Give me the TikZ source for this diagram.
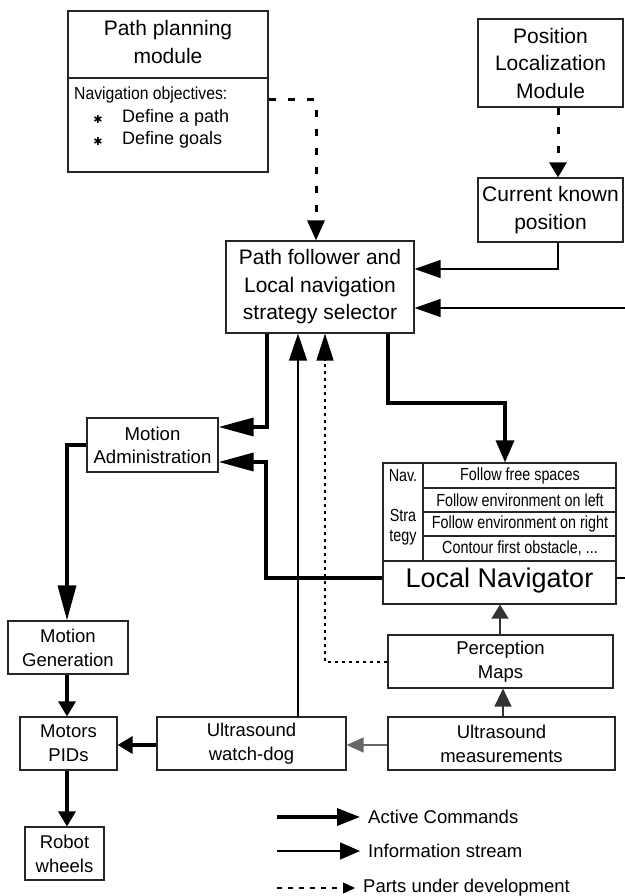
\documentclass[tikz,border=0pt]{standalone}
\usepackage{fontspec}
\setmainfont{Liberation Sans}
\newfontfamily\navfont[FakeStretch=0.9]{Liberation Sans}
\newfontfamily\rowfont[FakeStretch=0.82]{Liberation Sans}
\newfontfamily\symfont{DejaVu Sans}
\usetikzlibrary{arrows.meta}
\begin{document}
\begin{tikzpicture}[x=1pt,y=-1pt,
  box/.style={draw=black!85, line width=1.2pt, inner sep=0pt, align=center},
  big/.style={font=\fontsize{21}{27.5}\selectfont},
  mid/.style={font=\fontsize{18.5}{24}\selectfont},
  lbl/.style={inner sep=0pt, align=center},
  rowtxt/.style={inner sep=0pt, font=\rowfont\fontsize{17.5}{20}\selectfont},
  thk/.style={line width=3.4pt},
  thn/.style={line width=1.3pt},
  dsh/.style={line width=3pt, dash pattern=on 7pt off 12pt},
  dots/.style={line width=1.3pt, dash pattern=on 3.5pt off 3.5pt},
  tipL/.style={-{Triangle[length=35pt,width=18pt]}},
  tipM/.style={-{Triangle[length=26pt,width=18pt]}},
  tipS/.style={-{Triangle[length=20pt,width=17pt]}},
  tipXS/.style={-{Triangle[length=15pt,width=17pt]}}
]
\useasboundingbox (0,0) rectangle (624,896);

% ---------- boxes ----------
\node[box, minimum width=200pt, minimum height=161pt] (plan) at (168,91.5) {};
\draw[line width=1.2pt, black!85] (68,78) -- (268,78);
\node[lbl, big] (plant) at (168,42) {Path planning\\module};
\node[lbl, anchor=west, font=\navfont\fontsize{17.5}{20}\selectfont] (navobj) at (74,95) {Navigation objectives:};
\node[lbl, font=\symfont\fontsize{11}{11}\selectfont] (bul1) at (98,119) {✱};
\node[lbl, font=\symfont\fontsize{11}{11}\selectfont] (bul2) at (98,141) {✱};
\node[lbl, anchor=west, font=\fontsize{18}{20}\selectfont] (def1) at (122,118) {Define a path};
\node[lbl, anchor=west, font=\fontsize{18}{20}\selectfont] (def2) at (122,140) {Define goals};

\node[box, big, minimum width=145pt, minimum height=88pt] (posloc) at (550.5,63) {Position\\Localization\\Module};
\node[box, big, minimum width=145pt, minimum height=64pt] (curpos) at (550.5,210) {Current known\\position};
\node[box, big, minimum width=188pt, minimum height=92pt] (pf) at (320,287) {Path follower and\\Local navigation\\strategy selector};
\node[box, font=\fontsize{18.6}{23}\selectfont, minimum width=131pt, minimum height=54pt] (madm) at (152.5,445) {Motion\\Administration};

% Local navigator
\node[box, minimum width=233pt, minimum height=141pt] (lnav) at (499.5,533.5) {};
\draw[line width=1.2pt, black!85] (423,463) -- (423,561);
\draw[line width=1.2pt, black!85] (423,488) -- (616,488);
\draw[line width=1.2pt, black!85] (423,512) -- (616,512);
\draw[line width=1.2pt, black!85] (423,536) -- (616,536);
\draw[line width=1.2pt, black!85] (383,561) -- (616,561);
\node[rowtxt] (r1) at (520,476) {Follow free spaces};
\node[rowtxt] (r2) at (520,500) {Follow environment on left};
\node[rowtxt] (r3) at (520,524) {Follow environment on right};
\node[rowtxt] (r4) at (520,548.5) {Contour first obstacle, ...};
\node[rowtxt] (nav) at (403,476) {Nav.};
\node[rowtxt, align=center, font=\rowfont\fontsize{17.5}{20}\selectfont] (stra) at (403,527) {Stra\\tegy};
\node[lbl, font=\fontsize{27}{30}\selectfont] (lnavt) at (499.5,581) {Local Navigator};

\node[box, mid, minimum width=120pt, minimum height=53pt] (mgen) at (68,647.5) {Motion\\Generation};
\node[box, mid, minimum width=225pt, minimum height=53pt] (perc) at (500.5,661.5) {Perception\\Maps};
\node[box, mid, minimum width=227pt, minimum height=53pt] (usm) at (501.5,743.5) {Ultrasound\\measurements};
\node[box, mid, minimum width=97pt, minimum height=53pt] (motors) at (68.5,743.5) {Motors\\PIDs};
\node[box, mid, minimum width=189pt, minimum height=53pt] (wdog) at (251.5,743.5) {Ultrasound\\watch-dog};
\node[box, mid, minimum width=79pt, minimum height=53pt] (wheels) at (64.5,853.5) {Robot\\wheels};

% ---------- helper coordinates ----------
\coordinate (ja) at (316,100);
\coordinate (jb) at (558,0);
\coordinate (jc) at (558,269);
\coordinate (jd) at (632,308);
\coordinate (je) at (632,578);
\coordinate (jf) at (267,427);
\coordinate (jg1) at (266,578);
\coordinate (jg2) at (266,462);
\coordinate (jh1) at (388,403);
\coordinate (jh2) at (505,403);
\coordinate (ji) at (298,0);
\coordinate (jj) at (325,662);
\coordinate (jk) at (67,445);
\coordinate (jn) at (0,745);
\coordinate (jp) at (503,0);
\coordinate (jq) at (500,0);

% ---------- connectors ----------
\draw[dsh, tipS] (plan.east |- ja) -- (ja) -- (ja |- pf.north);
\draw[dsh, tipXS] (posloc.south -| jb) -- (curpos.north -| jb);
\draw[thn, tipM] (curpos.south -| jc) -- (jc) -- (jc -| pf.east);
\draw[thn, tipM] (lnav.east |- je) -- (je) -- (jd) -- (jd -| pf.east);
\draw[thk, tipL] (pf.south -| jf) -- (jf) -- (jf -| madm.east);
\draw[thk, tipL] (lnav.west |- jg1) -- (jg1) -- (jg2) -- (jg2 -| madm.east);
\draw[thk, -{Triangle[length=22pt,width=18pt]}] (pf.south -| jh1) -- (jh1) -- (jh2) -- (jh2 |- lnav.north);
\draw[thn, -{Triangle[length=27pt,width=18pt]}] (wdog.north -| ji) -- (pf.south -| ji);
\draw[dots, -{Triangle[length=27pt,width=17pt]}] (perc.west |- jj) -- (jj) -- (jj |- pf.south);
\draw[thk, tipL] (madm.west |- jk) -- (jk) -- (jk |- mgen.north);
\draw[thk, tipXS] (mgen.south -| jk) -- (motors.north -| jk);
\draw[thk, tipXS] (motors.south -| jk) -- (wheels.north -| jk);
\draw[thk, tipXS] (wdog.west |- jn) -- (motors.east |- jn);
\draw[thn, black!60, -{Triangle[length=17pt,width=15pt]}] (usm.west |- jn) -- (wdog.east |- jn);
\draw[thn, black!80, -{Triangle[length=18pt,width=17pt]}] (usm.north -| jp) -- (perc.south -| jp);
\draw[thn, black!80, -{Triangle[length=14pt,width=17pt]}] (perc.north -| jq) -- (lnav.south -| jq);

% ---------- legend ----------
\node[lbl, anchor=west, inner xsep=8pt, mid] (leg1) at (360,817) {Active Commands};
\node[lbl, anchor=west, inner xsep=8pt, mid] (leg2) at (360,851) {Information stream};
\node[lbl, anchor=west, inner xsep=8pt, mid] (leg3) at (355,888) {Parts under development};
\coordinate (ls1) at (277,817);
\coordinate (ls2) at (277,851);
\coordinate (ls3) at (277,888);
\draw[thk, -{Triangle[length=23pt,width=17pt]}] (ls1) -- (leg1.west);
\draw[thn, -{Triangle[length=20pt,width=17pt]}] (ls2) -- (leg2.west);
\draw[thn, dash pattern=on 5pt off 6pt, -{Triangle[length=12pt,width=11pt]}] (ls3) -- (leg3.west);
\end{tikzpicture}
\end{document}
